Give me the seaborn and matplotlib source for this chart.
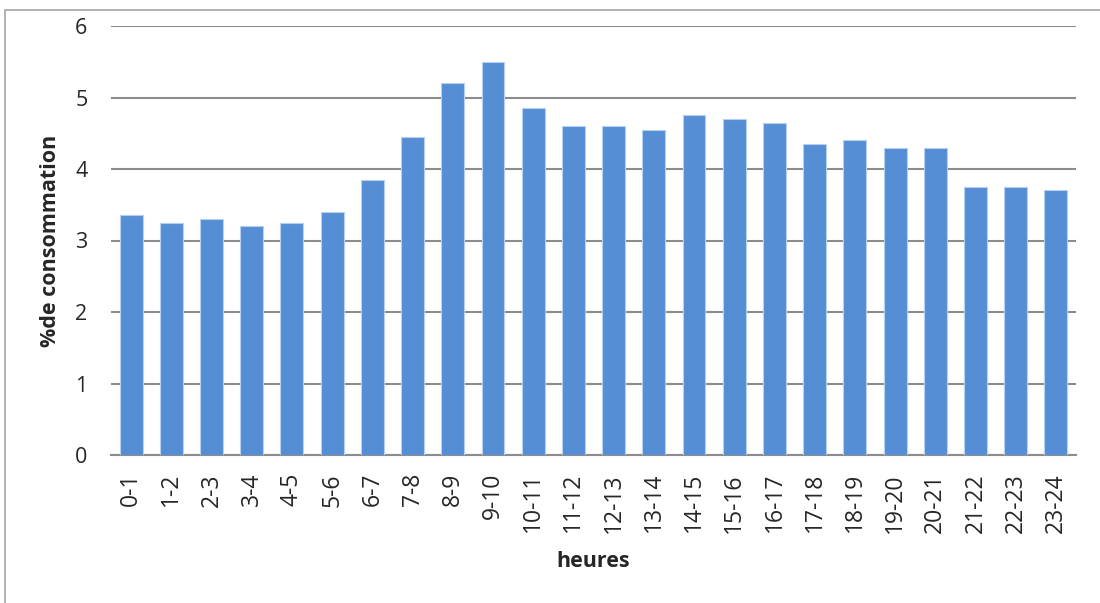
import matplotlib
matplotlib.use("Agg")
import matplotlib.pyplot as plt
import seaborn as sns
import pandas as pd
from matplotlib.patches import Rectangle

# Hourly share of daily consumption
hours = ["0-1", "1-2", "2-3", "3-4", "4-5", "5-6", "6-7", "7-8", "8-9", "9-10",
         "10-11", "11-12", "12-13", "13-14", "14-15", "15-16", "16-17", "17-18",
         "18-19", "19-20", "20-21", "21-22", "22-23", "23-24"]
share = [3.35, 3.25, 3.3, 3.2, 3.25, 3.4, 3.85, 4.45, 5.2, 5.5,
         4.85, 4.6, 4.6, 4.55, 4.75, 4.7, 4.65, 4.35,
         4.4, 4.3, 4.3, 3.75, 3.75, 3.7]
y_ticks = [0, 1, 2, 3, 4, 5, 6]

df = pd.DataFrame({"heures": hours, "conso": share})

sns.set_theme(style="white")
plt.rcParams["font.family"] = ["Open Sans", "DejaVu Sans"]

fig = plt.figure(figsize=(11, 6.03), dpi=100)
ax = fig.add_axes([111 / 1100, 1 - 455 / 603, (1076 - 111) / 1100, (455 - 26) / 603])

sns.barplot(data=df, x="heures", y="conso", ax=ax, color="#558ED5",
            saturation=1, width=0.57, edgecolor="#b7cff0", linewidth=0.8,
            zorder=3)

ax.set_ylim(0, 6)
ax.set_xlim(-0.5, len(hours) - 0.5)
ax.set_yticks(y_ticks)
ax.set_yticklabels([str(t) for t in y_ticks], fontsize=15.5)
ax.tick_params(axis="x", labelrotation=90, labelsize=16.5, length=0, pad=13)
ax.tick_params(axis="y", length=0, pad=17)
ax.grid(axis="y", color="#8c8c8c", linewidth=1.5, zorder=0)
ax.grid(axis="x", visible=False)
for side in ["top", "right", "left"]:
    ax.spines[side].set_visible(False)
ax.spines["bottom"].set_color("#8c8c8c")
ax.spines["bottom"].set_linewidth(1.5)

ax.set_xlabel("heures", fontsize=15.5, fontweight="bold", labelpad=13)
ax.set_ylabel("%de consommation", fontsize=15.5, fontweight="bold", labelpad=10)

# outer chart frame
fig.patches.append(Rectangle((5 / 1100, -0.1), 1.2, 1 - 10 / 603 + 0.1,
                             transform=fig.transFigure, fill=False,
                             edgecolor="#a6a6a6", linewidth=1.2))

fig.savefig("out.png", dpi=100)
